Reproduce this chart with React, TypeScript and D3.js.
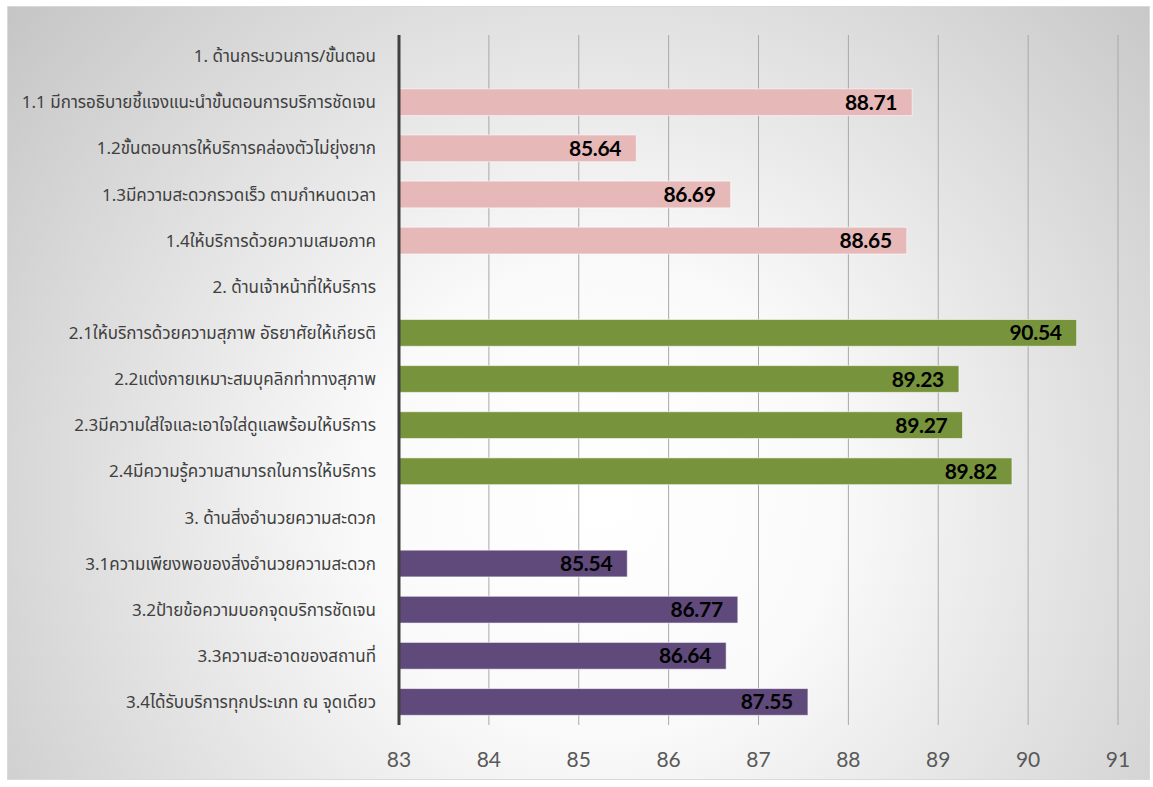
import React from "react";
import * as d3 from "d3";

const categories: string[] = [
  "1. ด้านกระบวนการ/ขั้นตอน",
  "1.1 มีการอธิบายชี้แจงแนะนำขั้นตอนการบริการชัดเจน",
  "1.2ขั้นตอนการให้บริการคล่องตัวไม่ยุ่งยาก",
  "1.3มีความสะดวกรวดเร็ว ตามกำหนดเวลา",
  "1.4ให้บริการด้วยความเสมอภาค",
  "2. ด้านเจ้าหน้าที่ให้บริการ",
  "2.1ให้บริการด้วยความสุภาพ อัธยาศัยให้เกียรติ",
  "2.2แต่งกายเหมาะสมบุคลิกท่าทางสุภาพ",
  "2.3มีความใส่ใจและเอาใจใส่ดูแลพร้อมให้บริการ",
  "2.4มีความรู้ความสามารถในการให้บริการ",
  "3. ด้านสิ่งอำนวยความสะดวก",
  "3.1ความเพียงพอของสิ่งอำนวยความสะดวก",
  "3.2ป้ายข้อความบอกจุดบริการชัดเจน",
  "3.3ความสะอาดของสถานที่",
  "3.4ได้รับบริการทุกประเภท ณ จุดเดียว",
];
const values: (number | null)[] = [
  null, 88.71, 85.64, 86.69, 88.65,
  null, 90.54, 89.23, 89.27, 89.82,
  null, 85.54, 86.77, 86.64, 87.55,
];
const groups: number[] = [0, 0, 0, 0, 0, 1, 1, 1, 1, 1, 2, 2, 2, 2, 2];
const groupColors: string[] = ["#e6b9b8", "#77933c", "#604a7b"];
const xTicks: number[] = [83, 84, 85, 86, 87, 88, 89, 90, 91];

export default function App() {
  const W = 1153, H = 787;
  const left = 399, right = 1118, top = 33, bottom = 725;
  const x = d3.scaleLinear().domain([83, 91]).range([left, right]);
  const y = d3.scaleBand<number>().domain(d3.range(categories.length)).range([top, bottom]).paddingInner(0.42).paddingOuter(0.21);
  const thai = "Tahoma, 'Noto Sans Thai', 'Noto Sans', 'DejaVu Sans', sans-serif";
  const num = "Lato, Carlito, Calibri, 'Open Sans', sans-serif";
  return (
    <svg width={W} height={H} style={{ position: "absolute", left: 0, top: 0 }}>
      <defs>
        <radialGradient id="bg" cx={600} cy={500} r={780} gradientUnits="userSpaceOnUse">
          <stop offset="0" stopColor="#ffffff" />
          <stop offset="0.3" stopColor="#fafafa" />
          <stop offset="1" stopColor="#c4c4c4" />
        </radialGradient>
      </defs>
      <rect x={0} y={0} width={W} height={H} fill="#ffffff" />
      <rect x={7.5} y={6.5} width={1142} height={773} fill="url(#bg)" stroke="#d9d9d9" strokeWidth={1} />
      {xTicks.slice(1).map((t) => (
        <line key={t} x1={x(t)} x2={x(t)} y1={top + 2} y2={bottom} stroke="#a8a8a8" strokeWidth={1} />
      ))}
      {values.map((v, i) =>
        v == null ? null : (
          <g key={i}>
            <rect x={x(83)} y={y(i)!} width={x(v) - x(83)} height={y.bandwidth()} fill={groupColors[groups[i]]} stroke="rgba(255,255,255,0.55)" strokeWidth={1} />
            <text x={x(v) - 15} y={y(i)! + y.bandwidth() / 2} dy="0.36em" textAnchor="end" fontFamily={num} fontWeight="bold" fontSize={21} letterSpacing={-0.3} fill="#000">
              {v.toFixed(2)}
            </text>
          </g>
        )
      )}
      <line x1={left} x2={left} y1={top + 2} y2={bottom} stroke="#404040" strokeWidth={3} />
      {categories.map((c, i) => (
        <text key={i} x={376} y={y(i)! + y.bandwidth() / 2} dy="0.36em" textAnchor="end" fontFamily={thai} fontSize={17} fill="#404040">
          {c}
        </text>
      ))}
      {xTicks.map((t) => (
        <text key={t} x={x(t)} y={759} dy="0.36em" textAnchor="middle" fontFamily={num} fontSize={21} fill="#595959">
          {t}
        </text>
      ))}
    </svg>
  );
}
